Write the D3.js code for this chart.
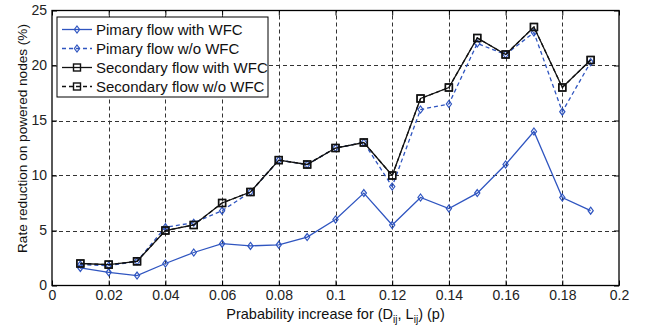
<!DOCTYPE html>
<html>
<head>
<meta charset="utf-8">
<script src="https://cdn.jsdelivr.net/npm/d3@7"></script>
<style>
  body { margin: 0; background: #fff; }
  svg { font-family: "Liberation Sans", Arial, sans-serif; }
</style>
</head>
<body>
<svg id="chart" width="649" height="329"></svg>
<script>
const width = 649;
const height = 329;
const marginTop = 10.5;
const marginRight = 30;
const marginBottom = 43.5;
const marginLeft = 52;

// Data
const pValues = [0.01, 0.02, 0.03, 0.04, 0.05, 0.06, 0.07, 0.08, 0.09, 0.10,
                 0.11, 0.12, 0.13, 0.14, 0.15, 0.16, 0.17, 0.18, 0.19];
const primaryWithWFC = [1.6, 1.2, 0.9, 2.0, 3.0, 3.8, 3.6, 3.7, 4.4, 6.0,
                        8.4, 5.5, 8.0, 7.0, 8.4, 11.0, 14.0, 8.0, 6.8];
const primaryWithoutWFC = [1.9, 1.8, 2.2, 5.3, 5.7, 6.8, 8.5, 11.4, 11.0, 12.5,
                           13.0, 9.0, 16.0, 16.5, 22.0, 21.0, 23.0, 15.8, 20.3];
const secondaryWithWFC = [2.0, 1.9, 2.2, 5.0, 5.5, 7.5, 8.5, 11.4, 11.0, 12.5,
                          13.0, 10.0, 17.0, 18.0, 22.5, 21.0, 23.5, 18.0, 20.5];
const secondaryWithoutWFC = [2.0, 1.9, 2.2, 5.0, 5.5, 7.5, 8.5, 11.4, 11.0, 12.5,
                             13.0, 10.0, 17.0, 18.0, 22.5, 21.0, 23.5, 18.0, 20.5];
const xTicks = [0, 0.02, 0.04, 0.06, 0.08, 0.1, 0.12, 0.14, 0.16, 0.18, 0.2];
const yTicks = [0, 5, 10, 15, 20, 25];
const seriesNames = ["Pimary flow with WFC", "Pimary flow w/o WFC",
                     "Secondary flow with WFC", "Secondary flow w/o WFC"];

const blue = "#2f55c0";
const series = [
  { name: seriesNames[0], values: primaryWithWFC, color: blue, dash: null, marker: "diamond" },
  { name: seriesNames[1], values: primaryWithoutWFC, color: blue, dash: "4,3", marker: "diamond" },
  { name: seriesNames[2], values: secondaryWithWFC, color: "#111", dash: null, marker: "square" },
  { name: seriesNames[3], values: secondaryWithoutWFC, color: "#111", dash: "4,3", marker: "square" }
];

const svg = d3.select("#chart");

const x = d3.scaleLinear()
  .domain([0, 0.2])
  .range([marginLeft, width - marginRight]);

const y = d3.scaleLinear()
  .domain([0, 25])
  .range([height - marginBottom, marginTop]);

// Grid lines (dashed)
svg.append("g")
  .attr("stroke", "#333")
  .attr("stroke-width", 1)
  .attr("stroke-dasharray", "4,3")
  .call((g) => g.selectAll(".gx")
    .data(xTicks.slice(1, -1))
    .join("line")
    .attr("x1", (d) => Math.round(x(d)) + 0.5)
    .attr("x2", (d) => Math.round(x(d)) + 0.5)
    .attr("y1", y(0))
    .attr("y2", y(25)))
  .call((g) => g.selectAll(".gy")
    .data(yTicks.slice(1, -1))
    .join("line")
    .attr("y1", (d) => Math.round(y(d)) + 0.5)
    .attr("y2", (d) => Math.round(y(d)) + 0.5)
    .attr("x1", x(0))
    .attr("x2", x(0.2)));

// Axes with inward ticks on all four sides
const fmtX = (d) => d === 0 ? "0" : String(+d.toFixed(2));

const axisStyle = (g) => {
  g.select(".domain").remove();
  g.selectAll(".tick line").attr("stroke", "#000");
  g.selectAll(".tick text").attr("fill", "#222").attr("font-size", 14);
};

svg.append("g")
  .attr("transform", `translate(0,${y(0)})`)
  .call(d3.axisBottom(x).tickValues(xTicks).tickFormat(fmtX).tickSize(-5).tickPadding(5))
  .call(axisStyle);

svg.append("g")
  .attr("transform", `translate(0,${y(25)})`)
  .call(d3.axisTop(x).tickValues(xTicks).tickFormat("").tickSize(-5))
  .call(axisStyle);

svg.append("g")
  .attr("transform", `translate(${x(0)},0)`)
  .call(d3.axisLeft(y).tickValues(yTicks).tickSize(-5).tickPadding(5))
  .call(axisStyle);

svg.append("g")
  .attr("transform", `translate(${x(0.2)},0)`)
  .call(d3.axisRight(y).tickValues(yTicks).tickFormat("").tickSize(-5))
  .call(axisStyle);

// Plot box
svg.append("rect")
  .attr("x", x(0))
  .attr("y", y(25))
  .attr("width", x(0.2) - x(0))
  .attr("height", y(0) - y(25))
  .attr("fill", "none")
  .attr("stroke", "#000")
  .attr("stroke-width", 1.3);

// Markers
function drawMarker(sel, type, color) {
  if (type === "diamond") {
    sel.append("path")
      .attr("d", "M0,-3.5L2.6,0L0,3.5L-2.6,0Z")
      .attr("fill", "none")
      .attr("stroke", color)
      .attr("stroke-width", 1.2);
  } else {
    sel.append("rect")
      .attr("x", -3.5).attr("y", -3.5)
      .attr("width", 7).attr("height", 7)
      .attr("fill", "none")
      .attr("stroke", color)
      .attr("stroke-width", 1.4);
  }
}

const line = d3.line()
  .x((d, i) => x(pValues[i]))
  .y((d) => y(d));

series.forEach((s) => {
  svg.append("path")
    .datum(s.values)
    .attr("fill", "none")
    .attr("stroke", s.color)
    .attr("stroke-width", 1.3)
    .attr("stroke-dasharray", s.dash)
    .attr("d", line);

  svg.append("g")
    .selectAll("g")
    .data(s.values)
    .join("g")
    .attr("transform", (d, i) => `translate(${x(pValues[i])},${y(d)})`)
    .each(function () { drawMarker(d3.select(this), s.marker, s.color); });
});

// Legend
const legend = svg.append("g").attr("transform", "translate(57,17)");
legend.append("rect")
  .attr("width", 211)
  .attr("height", 80)
  .attr("fill", "#fff")
  .attr("stroke", "#000")
  .attr("stroke-width", 1);

series.forEach((s, i) => {
  const row = legend.append("g").attr("transform", `translate(0,${12.5 + i * 19})`);
  row.append("line")
    .attr("x1", 5).attr("x2", 35)
    .attr("stroke", s.color)
    .attr("stroke-width", 1.3)
    .attr("stroke-dasharray", s.dash);
  drawMarker(row.append("g").attr("transform", "translate(20,0)"), s.marker, s.color);
  row.append("text")
    .attr("x", 39)
    .attr("dy", "0.35em")
    .attr("font-size", 15)
    .attr("fill", "#111")
    .text(s.name);
});

// Axis labels
const xLabel = svg.append("text")
  .attr("x", (x(0) + x(0.2)) / 2)
  .attr("y", 319)
  .attr("text-anchor", "middle")
  .attr("font-size", 14.5)
  .attr("fill", "#111");
xLabel.append("tspan").text("Prabability increase for (D");
xLabel.append("tspan").attr("font-size", 10).attr("dy", 4).text("ij");
xLabel.append("tspan").attr("dy", -4).text(", L");
xLabel.append("tspan").attr("font-size", 10).attr("dy", 4).text("ij");
xLabel.append("tspan").attr("dy", -4).text(") (p)");

svg.append("text")
  .attr("transform", "translate(22,138.5) rotate(-90)")
  .attr("text-anchor", "middle")
  .attr("dy", "0.35em")
  .attr("font-size", 13.6)
  .attr("fill", "#111")
  .text("Rate reduction on powered nodes (%)");
</script>
</body>
</html>
